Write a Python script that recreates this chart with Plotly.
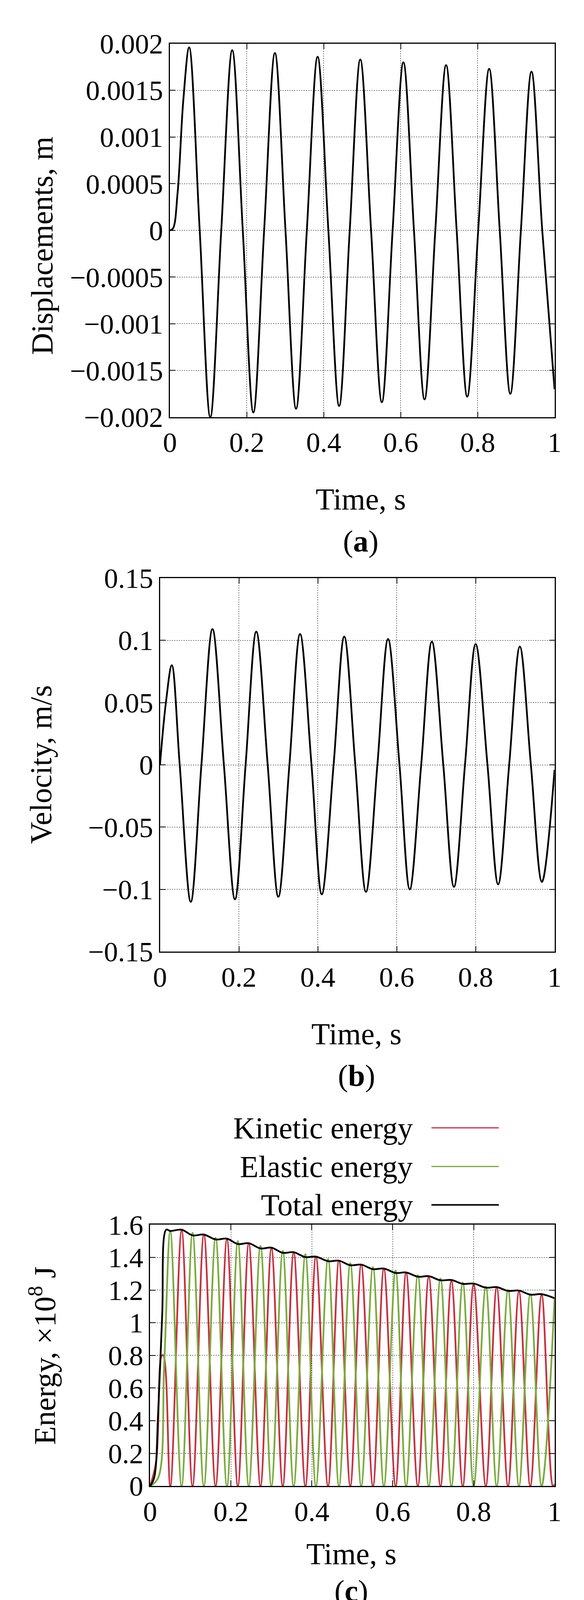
import plotly.graph_objects as go

W, H = 1495, 4157
FONT = "Liberation Serif"

# ---------------- data ----------------
# (a) displacement extrema and zero crossings
t_disp = [0, 0.008, 0.02, 0.035, 0.05, 0.0775, 0.105, 0.1335, 0.162, 0.1895, 0.217, 0.245, 0.273,
          0.3005, 0.328, 0.356, 0.384, 0.412, 0.44, 0.4675, 0.495, 0.523, 0.551, 0.579, 0.607,
          0.6345, 0.662, 0.69, 0.718, 0.7455, 0.773, 0.8015, 0.83, 0.8575, 0.885, 0.9125, 0.94,
          0.968, 1.0]
disp = [0, 0.00002, 0.0004, 0.0014, 0.00196, 0, -0.00200, 0, 0.00193, 0, -0.00195, 0, 0.00190,
        0, -0.00191, 0, 0.00186, 0, -0.00188, 0, 0.00183, 0, -0.00184, 0, 0.00180,
        0, -0.00181, 0, 0.00177, 0, -0.00178, 0, 0.00173, 0, -0.00175, 0, 0.00170,
        0, -0.00170]

# (b) velocity extrema and zero crossings
t_vel = [0, 0.015, 0.03, 0.05, 0.078, 0.105, 0.133, 0.162, 0.19, 0.217, 0.244, 0.273, 0.30,
         0.328, 0.355, 0.384, 0.41, 0.44, 0.467, 0.495, 0.522, 0.551, 0.578, 0.607, 0.633,
         0.662, 0.689, 0.718, 0.745, 0.773, 0.80, 0.83, 0.857, 0.885, 0.912, 0.94, 0.968, 1.0]
vel = [0, 0.05, 0.080, 0, -0.110, 0, 0.109, 0, -0.108, 0, 0.107, 0, -0.106,
       0, 0.105, 0, -0.104, 0, 0.103, 0, -0.102, 0, 0.101, 0, -0.100,
       0, 0.099, 0, -0.098, 0, 0.097, 0, -0.096, 0, 0.095, 0, -0.094, -0.004]

# (c) energies, ×1e8 J
t_kin = [0, 0.015, 0.029, 0.033, 0.05, 0.078, 0.105, 0.133, 0.162, 0.19, 0.217, 0.244, 0.273, 0.30,
         0.328, 0.355, 0.384, 0.41, 0.44, 0.467, 0.495, 0.522, 0.551, 0.578, 0.607, 0.633,
         0.662, 0.689, 0.718, 0.745, 0.773, 0.80, 0.83, 0.857, 0.885, 0.912, 0.94, 0.968, 0.996, 1.0]
kin = [0, 0.15, 0.80, 0.80, 0, 1.565, 0, 1.54, 0, 1.51, 0, 1.485, 0, 1.455,
       0, 1.43, 0, 1.405, 0, 1.38, 0, 1.355, 0, 1.33, 0, 1.305,
       0, 1.28, 0, 1.255, 0, 1.235, 0, 1.215, 0, 1.19, 0, 1.17, 0, 0.01]

t_el = [0, 0.02, 0.035, 0.05, 0.078, 0.105, 0.133, 0.162, 0.19, 0.217, 0.244, 0.273, 0.30,
        0.328, 0.355, 0.384, 0.41, 0.44, 0.467, 0.495, 0.522, 0.551, 0.578, 0.607, 0.633,
        0.662, 0.689, 0.718, 0.745, 0.773, 0.80, 0.83, 0.857, 0.885, 0.912, 0.94, 0.968, 1.0]
el = [0, 0.05, 0.75, 1.56, 0, 1.55, 0, 1.52, 0, 1.50, 0, 1.47, 0,
      1.44, 0, 1.42, 0, 1.39, 0, 1.365, 0, 1.34, 0, 1.32, 0,
      1.29, 0, 1.27, 0, 1.245, 0, 1.22, 0, 1.20, 0, 1.175, 0, 1.15]

t_tot = [0, 0.01, 0.02, 0.03, 0.04, 0.05, 0.078, 0.105, 0.133, 0.162, 0.19, 0.217, 0.244, 0.273,
         0.30, 0.328, 0.355, 0.384, 0.41, 0.44, 0.467, 0.495, 0.522, 0.551, 0.578, 0.607, 0.633,
         0.662, 0.689, 0.718, 0.745, 0.773, 0.80, 0.83, 0.857, 0.885, 0.912, 0.94, 0.968, 1.0]
tot = [0, 0.05, 0.45, 1.05, 1.57, 1.562, 1.57, 1.535, 1.54, 1.51, 1.515, 1.482, 1.487, 1.455,
       1.46, 1.428, 1.432, 1.402, 1.405, 1.377, 1.38, 1.352, 1.356, 1.328, 1.332, 1.305, 1.308,
       1.282, 1.285, 1.26, 1.262, 1.238, 1.24, 1.215, 1.218, 1.195, 1.197, 1.172, 1.175, 1.15]

x_ticks = [0, 0.2, 0.4, 0.6, 0.8, 1]
x_labels = ["0", "0.2", "0.4", "0.6", "0.8", "1"]
disp_ticks = [-0.002, -0.0015, -0.001, -0.0005, 0, 0.0005, 0.001, 0.0015, 0.002]
disp_labels = ["\u22120.002", "\u22120.0015", "\u22120.001", "\u22120.0005", "0",
               "0.0005", "0.001", "0.0015", "0.002"]
vel_ticks = [-0.15, -0.1, -0.05, 0, 0.05, 0.1, 0.15]
vel_labels = ["\u22120.15", "\u22120.1", "\u22120.05", "0", "0.05", "0.1", "0.15"]
en_ticks = [0, 0.2, 0.4, 0.6, 0.8, 1, 1.2, 1.4, 1.6]
en_labels = ["0", "0.2", "0.4", "0.6", "0.8", "1", "1.2", "1.4", "1.6"]

RED, GREEN = "#c83040", "#7aab3c"

# ---------------- figure ----------------
def px_dom(a, b, total):
    return [a / total, b / total]

def ydom(top, bot):
    return [1 - bot / H, 1 - top / H]

fig = go.Figure()
line = dict(shape="spline", smoothing=1.0)
fig.add_trace(go.Scatter(x=t_disp, y=disp, mode="lines", line=dict(color="black", width=4.5, **line),
                         xaxis="x", yaxis="y", showlegend=False))
fig.add_trace(go.Scatter(x=t_vel, y=vel, mode="lines", line=dict(color="black", width=4.5, **line),
                         xaxis="x2", yaxis="y2", showlegend=False))
fig.add_trace(go.Scatter(x=t_kin, y=kin, mode="lines", line=dict(color=RED, width=4.5, **line),
                         xaxis="x3", yaxis="y3", showlegend=False))
fig.add_trace(go.Scatter(x=t_el, y=el, mode="lines", line=dict(color=GREEN, width=4.5, **line),
                         xaxis="x3", yaxis="y3", showlegend=False))
fig.add_trace(go.Scatter(x=t_tot, y=tot, mode="lines", line=dict(color="black", width=4.5, **line),
                         xaxis="x3", yaxis="y3", showlegend=False))

axcommon = dict(showline=True, linecolor="black", linewidth=3, mirror="ticks", ticks="inside",
                ticklen=14, tickwidth=2, tickcolor="black", showgrid=True, gridcolor="black",
                gridwidth=1, griddash="dot", zeroline=False,
                tickfont=dict(family=FONT, size=72, color="black"))
tf = dict(family=FONT, size=78, color="black")

def xax(left, anchor):
    return dict(domain=px_dom(left, 1428, W), range=[0, 1], tickvals=x_ticks, ticktext=x_labels,
                anchor=anchor, **axcommon)

layout = dict(
    width=W, height=H, margin=dict(l=0, r=0, t=0, b=0),
    paper_bgcolor="white", plot_bgcolor="white",
    xaxis=xax(419, "y"), xaxis2=xax(393, "y2"), xaxis3=xax(367, "y3"),
    yaxis=dict(domain=ydom(66, 1041), range=[-0.002, 0.002], tickvals=disp_ticks, ticktext=disp_labels,
               anchor="x", **axcommon),
    yaxis2=dict(domain=ydom(1461, 2436), range=[-0.15, 0.15], tickvals=vel_ticks, ticktext=vel_labels,
                anchor="x2", **axcommon),
    yaxis3=dict(domain=ydom(3149, 3831), range=[0, 1.6], tickvals=en_ticks, ticktext=en_labels,
                anchor="x3", **axcommon),
)
fig.update_layout(**layout)

def ann(text, x, y, angle=0, xanchor="center"):
    fig.add_annotation(text=text, xref="paper", yref="paper", x=x / W, y=1 - y / H,
                       showarrow=False, textangle=angle, font=tf, xanchor=xanchor, yanchor="middle")

ann("Displacements, m", 84, 593, -90)
ann("Time, s", 920, 1255)
ann("(<b>a</b>)", 920, 1365)
ann("Velocity, m/s", 80, 1948, -90)
ann("Time, s", 908, 2650)
ann("(<b>b</b>)", 908, 2760)
ann("Energy, \u00d710<sup>8</sup> J", 85, 3490, -90)
ann("Time, s", 895, 4008)
ann("(<b>c</b>)", 895, 4104)

legend_rows = [("Kinetic energy", RED, 2896, 3), ("Elastic energy", GREEN, 2997, 3),
               ("Total energy", "black", 3097, 4)]
for name, col, yy, lw in legend_rows:
    ann(name, 1058, yy, 0, "right")
    fig.add_shape(type="line", xref="paper", yref="paper", x0=1105 / W, x1=1282 / W,
                  y0=1 - yy / H, y1=1 - yy / H, line=dict(color=col, width=lw))

fig.write_html("out.html")
